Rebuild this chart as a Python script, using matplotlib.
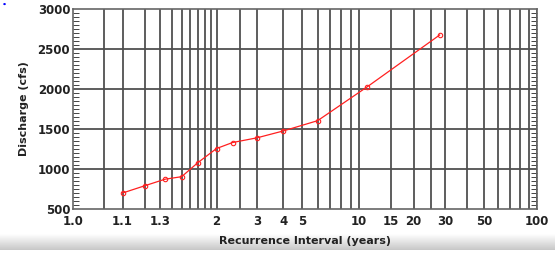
import matplotlib
matplotlib.use("Agg")
import matplotlib.pyplot as plt
import numpy as np

# recurrence interval (years) and discharge (cfs)
interval = [1.1, 1.2, 1.34, 1.5, 1.7, 2.0, 2.33, 3.0, 4.0, 6.0, 11.1, 28.0]
discharge = [700, 790, 872, 904, 1079, 1256, 1331, 1390, 1475, 1604, 2029, 2675]

grid_T = [1.05, 1.1, 1.2, 1.3, 1.4, 1.5, 1.6, 1.7, 1.8, 1.9, 2, 2.5, 3, 4, 5,
          6, 7, 8, 9, 10, 15, 20, 25, 30, 40, 50, 60, 70, 80, 90, 100]
tick_T = [1.01, 1.1, 1.3, 2, 3, 4, 5, 10, 15, 20, 30, 50, 100]
tick_labels = ["1.0", "1.1", "1.3", "2", "3", "4", "5", "10", "15", "20", "30", "50", "100"]
y_ticks = [500, 1000, 1500, 2000, 2500, 3000]


# Gumbel (extreme value) probability scale
def forward(T):
    T = np.clip(np.asarray(T, dtype=float), 1.0001, None)
    return -np.log(-np.log(1 - 1 / T))


def inverse(y):
    y = np.asarray(y, dtype=float)
    return 1 / (1 - np.exp(-np.exp(-y)))


fig = plt.figure(figsize=(5.6, 2.54), dpi=100)
fig.patch.set_facecolor("white")

# grey gradient strip behind the x label
bg = fig.add_axes([0.0, 0.015, 0.99, 0.062])
grad = np.linspace(1.0, 0.78, 50).reshape(-1, 1)
bg.imshow(grad, cmap="gray", vmin=0, vmax=1, aspect="auto", extent=[0, 1, 0, 1])
bg.axis("off")

ax = fig.add_axes([73 / 560, 45 / 254, 464 / 560, 200 / 254])
ax.set_xscale("function", functions=(forward, inverse))
ax.set_xlim(1.01, 100)
ax.set_ylim(500, 3000)

gc = "#505050"
for t in grid_T:
    ax.axvline(t, color=gc, lw=1.3, zorder=1)
for v in y_ticks[1:-1]:
    ax.axhline(v, color=gc, lw=1.3, zorder=1)

ax.plot(interval, discharge, color="#ff2020", lw=0.9, marker="o", ms=3.2,
        mfc="none", mew=0.8, zorder=3)

ax.set_xticks(tick_T)
ax.set_xticklabels(tick_labels)
ax.xaxis.set_minor_locator(matplotlib.ticker.NullLocator())
ax.set_yticks(y_ticks)
ax.set_yticks(np.arange(500, 3001, 50), minor=True)
ax.tick_params(axis="x", length=0, pad=4, labelsize=8.5)
ax.tick_params(axis="y", which="major", length=0, pad=2, labelsize=8.5)
ax.tick_params(axis="y", which="minor", direction="in", length=4, width=0.7,
               color="#444444", left=True, right=True)
for lab in ax.get_xticklabels() + ax.get_yticklabels():
    lab.set_fontweight("bold")
    lab.set_color("#222222")

for s in ax.spines.values():
    s.set_color("#666666")
    s.set_linewidth(1.2)

ax.set_xlabel("Recurrence Interval (years)", fontsize=8, fontweight="bold",
              color="#222222", labelpad=6)
ax.set_ylabel("Discharge (cfs)", fontsize=8, fontweight="bold", color="#222222",
              labelpad=6)

fig.text(4 / 560, 1 - 4 / 254, "\u25cf", color="blue", fontsize=2.5, ha="center", va="center")

fig.savefig("out.png", dpi=100, facecolor="white")
